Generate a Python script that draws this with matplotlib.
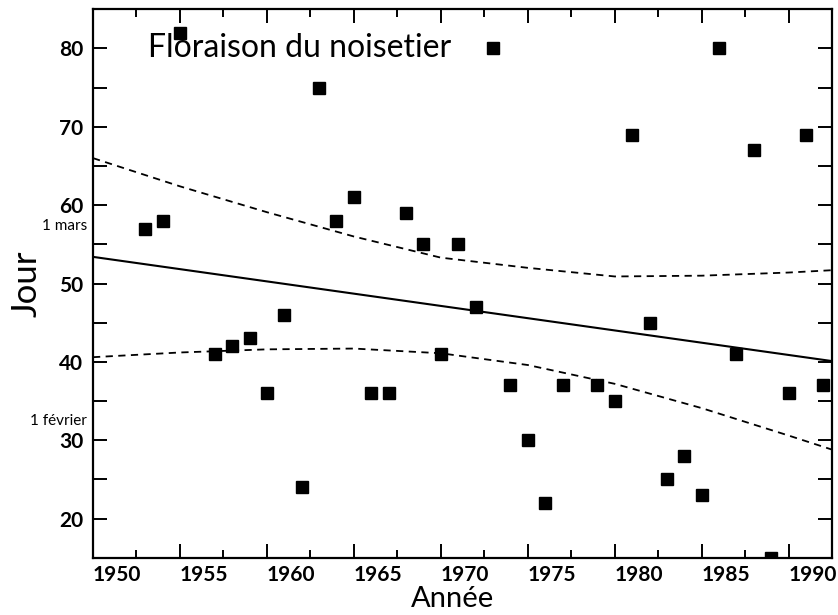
import matplotlib.pyplot as plt
from matplotlib.ticker import MultipleLocator
from matplotlib.transforms import blended_transform_factory

# Jour de floraison du noisetier (jour de l'année)
annees = [1953, 1954, 1955, 1957, 1958, 1959, 1960, 1961, 1962, 1963,
          1964, 1965, 1966, 1967, 1968, 1969, 1970, 1971, 1972, 1973,
          1974, 1975, 1976, 1977, 1979, 1980, 1981, 1982, 1983, 1984,
          1985, 1986, 1987, 1988, 1989, 1990, 1991, 1992]
jours = [57, 58, 82, 41, 42, 43, 36, 46, 24, 75,
         58, 61, 36, 36, 59, 55, 41, 55, 47, 80,
         37, 30, 22, 37, 37, 35, 69, 45, 25, 28,
         23, 80, 41, 67, 15, 36, 69, 37]

# droite de régression et intervalle de confiance
x_fit = [1950, 1992.5]
y_fit = [53.4, 40.1]
x_ic = [1950, 1955, 1960, 1965, 1970, 1975, 1980, 1985, 1990, 1992.5]
ic_haut = [66.0, 62.4, 59.1, 56.0, 53.3, 52.0, 50.9, 51.0, 51.4, 51.7]
ic_bas = [40.6, 41.2, 41.6, 41.7, 41.1, 39.6, 37.2, 34.1, 30.6, 28.8]

plt.rcParams['font.family'] = ['Lato', 'DejaVu Sans']

fig = plt.figure(figsize=(8.38, 6.15), dpi=100)
ax = fig.add_axes([0.111, 0.093, 0.882, 0.892])

ax.plot(annees, jours, 's', color='black', markersize=8)
ax.plot(x_fit, y_fit, '-', color='black', linewidth=1.5)
ax.plot(x_ic, ic_haut, '--', color='black', linewidth=1.3, dashes=(4, 3))
ax.plot(x_ic, ic_bas, '--', color='black', linewidth=1.3, dashes=(4, 3))

ax.set_xlim(1950, 1992.5)
ax.set_ylim(15, 85)
ax.xaxis.set_major_locator(MultipleLocator(5))
ax.xaxis.set_minor_locator(MultipleLocator(2.5))
ax.yaxis.set_major_locator(MultipleLocator(10))
ax.yaxis.set_minor_locator(MultipleLocator(5))

for s in ax.spines.values():
    s.set_linewidth(1.6)
ax.tick_params(which='both', direction='in', top=True, right=True, width=1.4)
ax.tick_params(which='major', length=10)
ax.tick_params(which='minor', length=6)
ax.tick_params(axis='y', which='minor', length=10)
ax.tick_params(axis='x', labelsize=15, pad=5)
ax.tick_params(axis='y', labelsize=15, pad=7)
for lab in ax.get_xticklabels():
    lab.set_horizontalalignment('left')
    lab.set_fontweight('bold')
for lab in ax.get_yticklabels():
    lab.set_fontweight('bold')

ax.set_xlabel('Année', fontsize=21)
ax.xaxis.set_label_coords(0.486, -0.052)
ax.set_ylabel('Jour', fontsize=25, labelpad=12)

trans = blended_transform_factory(ax.transAxes, ax.transData)
ax.text(-0.008, 57.4, '1 mars', transform=trans, ha='right', va='center', fontsize=11)
ax.text(-0.008, 32.5, '1 février', transform=trans, ha='right', va='center', fontsize=11)

ax.text(0.074, 0.93, 'Floraison du noisetier', transform=ax.transAxes,
        ha='left', va='center', fontsize=23)

fig.savefig('out.png', dpi=100)
